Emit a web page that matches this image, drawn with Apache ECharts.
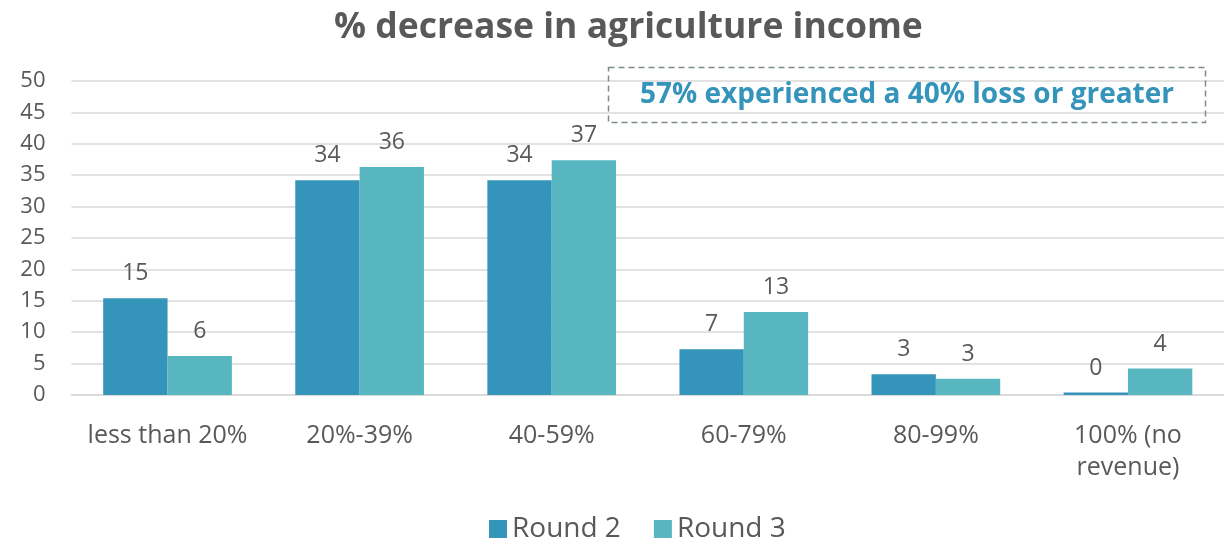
<!DOCTYPE html>
<html>
<head>
<meta charset="utf-8">
<script src="https://cdn.jsdelivr.net/npm/echarts@6/dist/echarts.min.js"></script>
<style>
  html, body { margin: 0; padding: 0; background: #fff; overflow: hidden; }
  #chart { width: 1224px; height: 542px; }
</style>
</head>
<body>
<div id="chart"></div>
<script>
// Share of respondents by size of drop in agriculture income
const categories = ['less than 20%', '20%-39%', '40-59%', '60-79%', '80-99%', '100% (no\nrevenue)'];
const round2 = [15.4, 34.2, 34.2, 7.3, 3.3, 0.4];
const round3 = [6.2, 36.3, 37.4, 13.2, 2.6, 4.2];
const yTicks = { min: 0, max: 50, interval: 5 };
const noteText = '57% experienced a 40% loss or greater';

const FONT = '"Open Sans", "Noto Sans", sans-serif';
const GREY = '#595959';

const chart = echarts.init(document.getElementById('chart'), null, { renderer: 'canvas' });

const labelCfg = {
  show: true,
  position: 'top',
  distance: 13,
  color: GREY,
  fontFamily: FONT,
  fontSize: 23,
  formatter: p => Math.round(p.value)
};

chart.setOption({
  animation: false,
  title: {
    text: '% decrease in agriculture income',
    left: 329,
    top: 5,
    textStyle: { fontFamily: FONT, fontSize: 35.5, fontWeight: 'bold', color: GREY }
  },
  legend: {
    top: 510,
    left: 484,
    itemWidth: 18,
    itemHeight: 18,
    itemGap: 33,
    itemTextGap: 9,
    icon: 'rect',
    textStyle: { fontFamily: FONT, fontSize: 28, color: GREY },
    data: ['Round 2', 'Round 3']
  },
  // the plot area runs slightly past the right edge so the last bar pair sits where it should
  grid: { left: 71.5, right: -6, top: 81, bottom: 147, containLabel: false },
  xAxis: {
    type: 'category',
    data: categories,
    axisLine: { lineStyle: { color: '#D9D9D9', width: 1.5 } },
    axisTick: { show: false },
    axisLabel: { interval: 0, color: GREY, fontFamily: FONT, fontSize: 25, margin: 25, lineHeight: 32 }
  },
  yAxis: {
    type: 'value',
    min: yTicks.min,
    max: yTicks.max,
    interval: yTicks.interval,
    axisLine: { show: false },
    axisTick: { show: false },
    splitLine: { lineStyle: { color: '#D9D9D9', width: 1.5 } },
    axisLabel: { color: GREY, fontFamily: FONT, fontSize: 22, margin: 26, align: 'right' }
  },
  series: [
    {
      name: 'Round 2',
      type: 'bar',
      data: round2,
      barGap: '0%',
      barCategoryGap: '33%',
      itemStyle: { color: '#3494BA' },
      label: labelCfg
    },
    {
      name: 'Round 3',
      type: 'bar',
      data: round3,
      barGap: '0%',
      barCategoryGap: '33%',
      itemStyle: { color: '#58B6C0' },
      label: labelCfg
    }
  ],
  graphic: [
    {
      type: 'rect',
      shape: { x: 608.5, y: 67.5, width: 597, height: 55 },
      style: { fill: 'rgba(255,255,255,0)', stroke: '#7F8C8D', lineWidth: 1.5, lineDash: [6, 4] },
      z: 10
    },
    {
      type: 'text',
      x: 907,
      y: 95,
      style: {
        text: noteText,
        fill: '#3494BA',
        font: 'bold 28px ' + FONT,
        align: 'center',
        verticalAlign: 'middle'
      },
      z: 11
    }
  ]
});
</script>
</body>
</html>
